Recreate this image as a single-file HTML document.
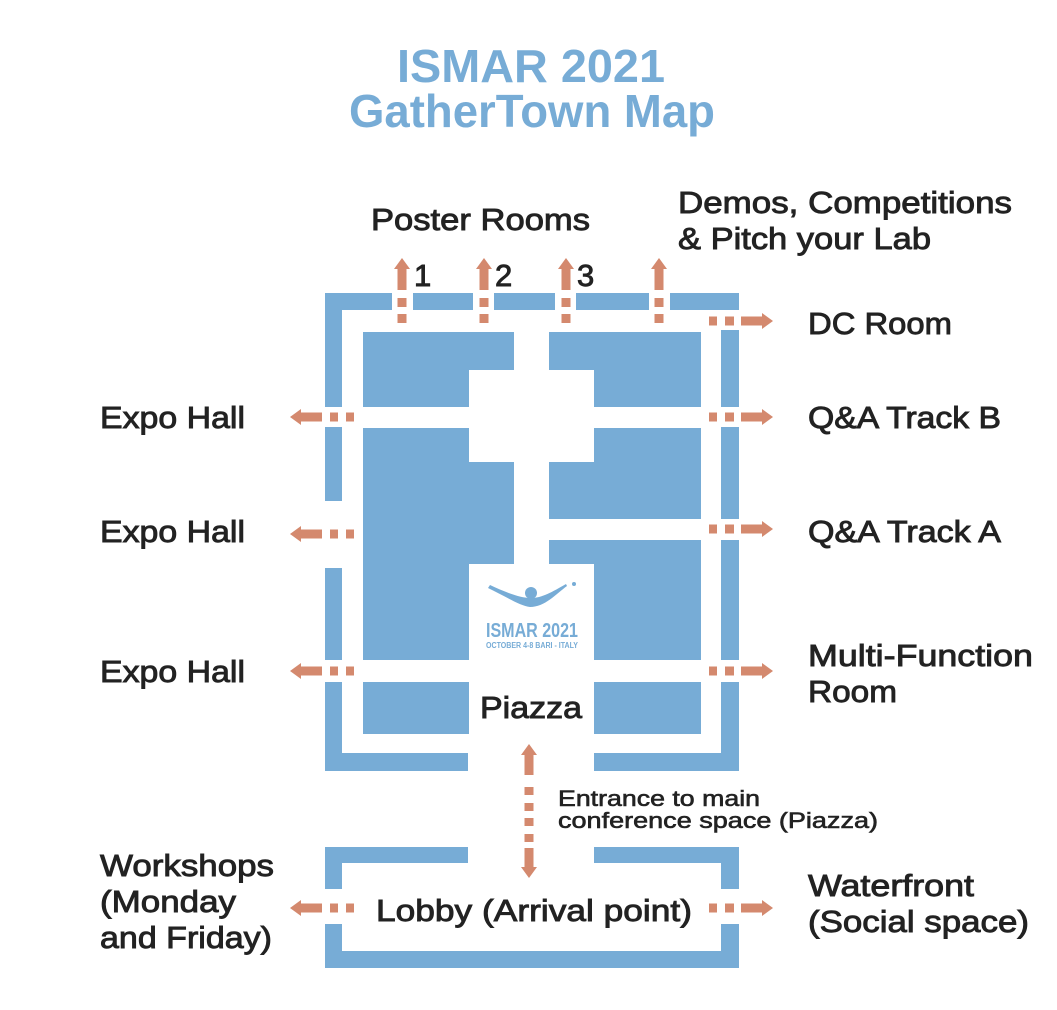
<!DOCTYPE html>
<html><head><meta charset="utf-8"><style>
html,body{margin:0;padding:0;background:#fff;width:1057px;height:1010px;overflow:hidden}
svg{display:block}
text{font-family:"Liberation Sans",sans-serif}
.l{font-size:31px;fill:#222;stroke:#222;stroke-width:0.9}
</style></head><body>
<svg width="1057" height="1010" viewBox="0 0 1057 1010" xmlns="http://www.w3.org/2000/svg">
<g fill="#77acd6" font-weight="bold" text-anchor="middle" font-size="46">
<text x="531" y="82" textLength="268" lengthAdjust="spacingAndGlyphs">ISMAR 2021</text>
<text x="532" y="127" textLength="366" lengthAdjust="spacingAndGlyphs">GatherTown Map</text>
</g>
<g fill="#77acd6">
<rect x="325" y="293" width="67" height="17"/>
<rect x="413" y="293" width="60" height="17"/>
<rect x="494" y="293" width="61" height="17"/>
<rect x="576" y="293" width="73" height="17"/>
<rect x="670" y="293" width="69" height="17"/>
<rect x="325" y="293" width="17" height="114"/>
<rect x="325" y="427" width="17" height="74"/>
<rect x="325" y="568" width="17" height="92"/>
<rect x="325" y="682" width="17" height="89"/>
<rect x="721" y="330" width="18" height="77"/>
<rect x="721" y="427" width="18" height="92"/>
<rect x="721" y="540" width="18" height="120"/>
<rect x="721" y="682" width="18" height="89"/>
<rect x="325" y="753" width="143" height="18"/>
<rect x="594" y="753" width="145" height="18"/>
<rect x="363" y="332" width="151" height="38"/>
<rect x="363" y="369" width="106" height="38"/>
<rect x="549" y="332" width="152" height="38"/>
<rect x="594" y="369" width="107" height="38"/>
<rect x="363" y="428" width="106" height="35"/>
<rect x="363" y="462" width="151" height="102"/>
<rect x="363" y="563" width="106" height="97"/>
<rect x="594" y="428" width="107" height="35"/>
<rect x="549" y="462" width="152" height="57"/>
<rect x="549" y="540" width="152" height="24"/>
<rect x="594" y="563" width="107" height="97"/>
<rect x="363" y="682" width="106" height="52"/>
<rect x="594" y="682" width="107" height="52"/>
<rect x="325" y="847" width="143" height="16"/>
<rect x="594" y="847" width="145" height="16"/>
<rect x="325" y="847" width="17" height="42"/>
<rect x="325" y="924" width="17" height="44"/>
<rect x="721" y="847" width="18" height="42"/>
<rect x="721" y="924" width="18" height="44"/>
<rect x="325" y="951" width="414" height="17"/>
</g>
<defs>
<g id="up" fill="#d4896e">
<polygon points="0,0 8,11 4.5,11 4.5,32 -4.5,32 -4.5,11 -8,11"/>
<rect x="-4.5" y="40" width="9" height="9"/>
<rect x="-4.5" y="56" width="9" height="9"/>
</g>
<g id="rt" fill="#d4896e">
<rect x="0" y="-4.5" width="8" height="9"/>
<rect x="16" y="-4.5" width="9" height="9"/>
<polygon points="32,-4.5 53,-4.5 53,-8 64,0 53,8 53,4.5 32,4.5"/>
</g>
<g id="lf" fill="#d4896e">
<polygon points="0,0 11,-8 11,-4.5 32,-4.5 32,4.5 11,4.5 11,8"/>
<rect x="40" y="-4.5" width="8" height="9"/>
<rect x="56" y="-4.5" width="8" height="9"/>
</g>
</defs>
<use href="#up" x="402" y="258"/>
<use href="#up" x="484" y="258"/>
<use href="#up" x="566" y="258"/>
<use href="#up" x="659" y="258"/>
<use href="#rt" x="709" y="321"/>
<use href="#rt" x="709" y="417"/>
<use href="#rt" x="709" y="529"/>
<use href="#rt" x="709" y="671"/>
<use href="#rt" x="709" y="908"/>
<use href="#lf" x="290" y="417"/>
<use href="#lf" x="290" y="534"/>
<use href="#lf" x="290" y="671"/>
<use href="#lf" x="290" y="908"/>
<g fill="#d4896e">
<polygon points="529,744 537,755 533.5,755 533.5,775 524.5,775 524.5,755 521,755"/>
<rect x="524.5" y="787" width="9" height="8"/>
<rect x="524.5" y="803" width="9" height="8"/>
<rect x="524.5" y="818" width="9" height="8"/>
<rect x="524.5" y="834" width="9" height="8"/>
<polygon points="529,878 537,867 533.5,867 533.5,848 524.5,848 524.5,867 521,867"/>
</g>
<g fill="#77acd6">
<circle cx="531" cy="593" r="6"/>
<path d="M488,588 C505,596 520,606 530,607 C545,607 556,594 567,586 L566,584 C552,592 542,598 531,598 C520,598 505,592 490,585 Z"/>
<circle cx="574" cy="584" r="2"/>
<text x="532" y="637" text-anchor="middle" font-size="20" font-weight="bold" textLength="92" lengthAdjust="spacingAndGlyphs">ISMAR 2021</text>
<text x="532" y="648" text-anchor="middle" font-size="8" font-weight="bold" textLength="92" lengthAdjust="spacingAndGlyphs">OCTOBER 4-8 BARI - ITALY</text>
</g>
<g class="l">
<text x="371" y="230" textLength="219" lengthAdjust="spacingAndGlyphs">Poster Rooms</text>
<text x="678" y="213" textLength="334" lengthAdjust="spacingAndGlyphs">Demos, Competitions</text>
<text x="678" y="249" textLength="253" lengthAdjust="spacingAndGlyphs">&amp; Pitch your Lab</text>
<text x="414" y="286">1</text>
<text x="495" y="286">2</text>
<text x="577" y="286">3</text>
<text x="808" y="334" textLength="144" lengthAdjust="spacingAndGlyphs">DC Room</text>
<text x="100" y="428" textLength="145" lengthAdjust="spacingAndGlyphs">Expo Hall</text>
<text x="100" y="542" textLength="145" lengthAdjust="spacingAndGlyphs">Expo Hall</text>
<text x="100" y="682" textLength="145" lengthAdjust="spacingAndGlyphs">Expo Hall</text>
<text x="808" y="428" textLength="193" lengthAdjust="spacingAndGlyphs">Q&amp;A Track B</text>
<text x="808" y="542" textLength="193" lengthAdjust="spacingAndGlyphs">Q&amp;A Track A</text>
<text x="808" y="666" textLength="225" lengthAdjust="spacingAndGlyphs">Multi-Function</text>
<text x="808" y="702" textLength="89" lengthAdjust="spacingAndGlyphs">Room</text>
<text x="480" y="718" textLength="102" lengthAdjust="spacingAndGlyphs">Piazza</text>
<text x="100" y="876" textLength="174" lengthAdjust="spacingAndGlyphs">Workshops</text>
<text x="100" y="912" textLength="136" lengthAdjust="spacingAndGlyphs">(Monday</text>
<text x="100" y="948" textLength="172" lengthAdjust="spacingAndGlyphs">and Friday)</text>
<text x="376" y="921" textLength="316" lengthAdjust="spacingAndGlyphs">Lobby (Arrival point)</text>
<text x="808" y="896" textLength="166" lengthAdjust="spacingAndGlyphs">Waterfront</text>
<text x="808" y="932" textLength="221" lengthAdjust="spacingAndGlyphs">(Social space)</text>
</g>
<g style="font-size:22px;fill:#222;stroke:#222;stroke-width:0.6">
<text x="558" y="806" textLength="202" lengthAdjust="spacingAndGlyphs">Entrance to main</text>
<text x="558" y="828" textLength="320" lengthAdjust="spacingAndGlyphs">conference space (Piazza)</text>
</g>
</svg>
</body></html>
